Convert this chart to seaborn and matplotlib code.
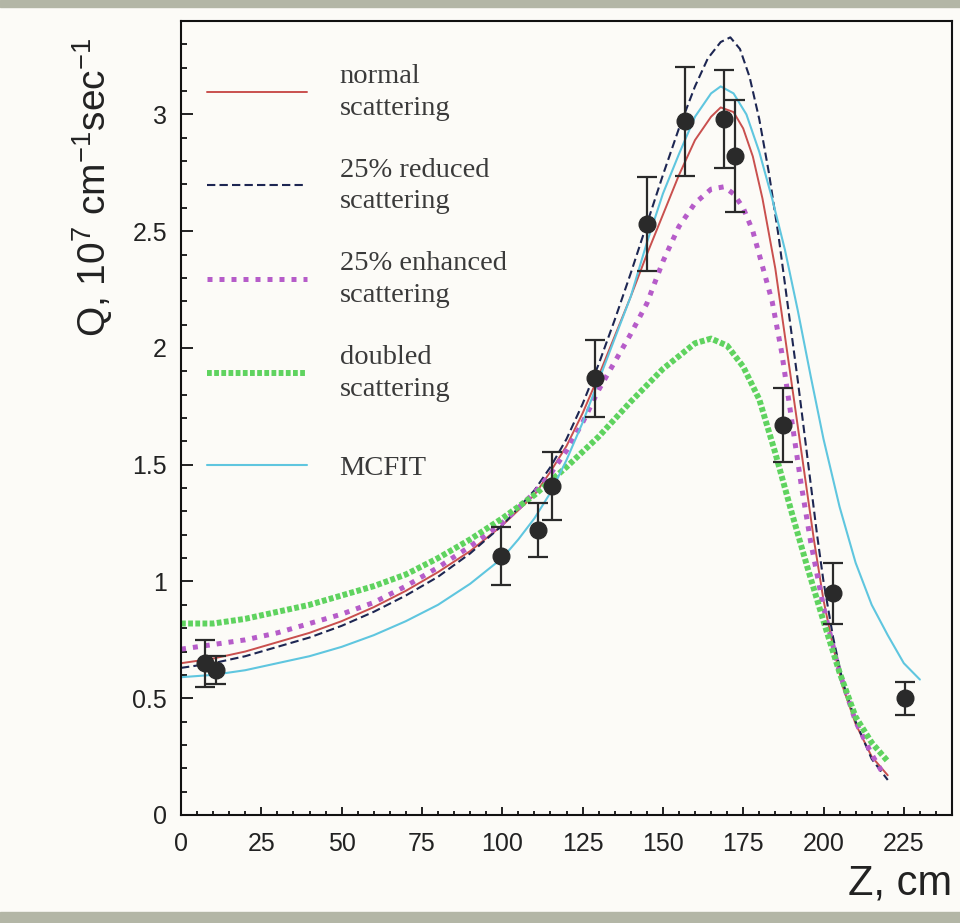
import matplotlib
matplotlib.use("Agg")
import matplotlib.pyplot as plt
from matplotlib.patches import Rectangle
from matplotlib.ticker import MultipleLocator, FuncFormatter
import seaborn as sns

# values (Z in cm, Q in 1e7 cm^-1 sec^-1)
z_normal = [0, 10, 20, 30, 40, 50, 60, 70, 80, 90, 100, 110, 115, 120, 125, 130, 135, 140, 145,
            150, 155, 160, 165, 168, 172, 175, 178, 181, 185, 188, 191, 194, 197, 200, 203, 206,
            210, 215, 220]
q_normal = [0.65, 0.67, 0.70, 0.74, 0.78, 0.83, 0.89, 0.96, 1.04, 1.13, 1.24, 1.37, 1.47, 1.58,
            1.72, 1.88, 2.05, 2.22, 2.40, 2.57, 2.74, 2.89, 2.99, 3.03, 3.01, 2.94, 2.82, 2.64,
            2.34, 2.05, 1.76, 1.47, 1.18, 0.92, 0.72, 0.55, 0.39, 0.25, 0.17]

z_reduced = [0, 10, 20, 30, 40, 50, 60, 70, 80, 90, 100, 110, 115, 120, 125, 130, 135, 140, 145,
             150, 155, 160, 164, 168, 171, 174, 177, 180, 183, 186, 189, 192, 195, 198, 200, 203,
             206, 210, 215, 220]
q_reduced = [0.63, 0.65, 0.68, 0.72, 0.76, 0.81, 0.87, 0.94, 1.02, 1.12, 1.24, 1.39, 1.49, 1.61,
             1.76, 1.93, 2.12, 2.32, 2.53, 2.74, 2.94, 3.12, 3.24, 3.31, 3.33, 3.28, 3.16, 2.98,
             2.75, 2.48, 2.17, 1.86, 1.53, 1.20, 1.00, 0.76, 0.57, 0.40, 0.24, 0.15]

z_enhanced = [0, 10, 20, 30, 40, 50, 60, 70, 80, 90, 100, 110, 115, 120, 125, 130, 135, 140, 145,
              150, 155, 160, 165, 169, 172, 175, 178, 181, 184, 187, 190, 193, 196, 200, 205, 210,
              215, 218]
q_enhanced = [0.71, 0.73, 0.75, 0.78, 0.82, 0.86, 0.91, 0.98, 1.06, 1.15, 1.25, 1.38, 1.46, 1.56,
              1.68, 1.82, 1.94, 2.06, 2.19, 2.37, 2.52, 2.62, 2.68, 2.69, 2.66, 2.60, 2.50, 2.35,
              2.20, 1.98, 1.70, 1.42, 1.17, 0.89, 0.61, 0.40, 0.26, 0.19]

z_doubled = [0, 10, 20, 30, 40, 50, 60, 70, 80, 90, 100, 110, 120, 130, 140, 150, 160, 165, 170,
             175, 180, 185, 190, 195, 200, 205, 210, 215, 220]
q_doubled = [0.82, 0.82, 0.84, 0.87, 0.90, 0.94, 0.98, 1.03, 1.10, 1.18, 1.27, 1.37, 1.49, 1.62,
             1.77, 1.91, 2.02, 2.04, 2.01, 1.92, 1.78, 1.55, 1.30, 1.06, 0.83, 0.61, 0.42, 0.31,
             0.23]

z_mcfit = [0, 10, 20, 30, 40, 50, 60, 70, 80, 90, 100, 105, 110, 115, 120, 125, 130, 135, 140,
           145, 150, 155, 160, 165, 168, 172, 176, 180, 184, 188, 192, 196, 200, 205, 210, 215,
           220, 225, 230]
q_mcfit = [0.59, 0.60, 0.62, 0.65, 0.68, 0.72, 0.77, 0.83, 0.90, 0.99, 1.10, 1.18, 1.27, 1.38,
           1.52, 1.68, 1.86, 2.04, 2.22, 2.45, 2.66, 2.83, 2.99, 3.09, 3.12, 3.09, 3.00, 2.84,
           2.64, 2.42, 2.16, 1.88, 1.61, 1.32, 1.08, 0.90, 0.77, 0.65, 0.58]

# measured points with error bars
z_meas = [7.5, 11, 99.5, 111, 115.5, 129, 145, 157, 169, 172.5, 187.5, 203, 225.5]
q_meas = [0.65, 0.62, 1.11, 1.22, 1.41, 1.87, 2.53, 2.97, 2.98, 2.82, 1.67, 0.95, 0.50]
q_err = [0.10, 0.06, 0.125, 0.115, 0.145, 0.165, 0.20, 0.235, 0.21, 0.24, 0.16, 0.13, 0.07]

labels = ["normal\nscattering", "25% reduced\nscattering", "25% enhanced\nscattering",
          "doubled\nscattering", "MCFIT"]

# styling
sns.set_style("ticks")
plt.rcParams["font.family"] = ["Liberation Sans", "DejaVu Sans"]
plt.rcParams["xtick.direction"] = "in"
plt.rcParams["ytick.direction"] = "in"

BG = "#fcfbf7"
fig = plt.figure(figsize=(9.6, 9.23), dpi=100, facecolor=BG)
ax = fig.add_axes([181 / 960, 1 - 815 / 923, 771 / 960, 794 / 923])
ax.set_facecolor(BG)

# scan borders
fig.patches.append(Rectangle((0, 1 - 7 / 923), 1, 7 / 923, transform=fig.transFigure,
                             color="#b3b6a6", zorder=0))
fig.patches.append(Rectangle((0, 0), 1, 11 / 923, transform=fig.transFigure,
                             color="#b3b6a6", zorder=0))

styles = [
    dict(color="#c9504e", lw=1.4, ls="-"),
    dict(color="#1d2652", lw=1.5, ls=(0, (4, 2))),
    dict(color="#b65cc9", lw=3.6, ls=(0, (1, 1.4))),
    dict(color="#5fd35f", lw=4.3, ls=(0, (0.8, 0.4))),
    dict(color="#5fc6df", lw=1.5, ls="-"),
]
curves = [(z_normal, q_normal), (z_reduced, q_reduced), (z_enhanced, q_enhanced),
          (z_doubled, q_doubled), (z_mcfit, q_mcfit)]

handles = []
for (zz, qq), st, lab in zip(curves, styles, labels):
    sns.lineplot(x=zz, y=qq, ax=ax, estimator=None, errorbar=None, label=lab,
                 color=st["color"], linewidth=st["lw"], linestyle=st["ls"])
    handles.append(ax.get_lines()[-1])
ax.get_legend().remove()

ax.errorbar(z_meas, q_meas, yerr=q_err, fmt="o", color="#2a2a2a", ms=12, capsize=7,
            elinewidth=1.6, capthick=1.6, zorder=5)

ax.set_xlim(0, 240)
ax.set_ylim(0, 3.4)
ax.xaxis.set_major_locator(MultipleLocator(25))
ax.xaxis.set_minor_locator(MultipleLocator(5))
ax.yaxis.set_major_locator(MultipleLocator(0.5))
ax.yaxis.set_minor_locator(MultipleLocator(0.1))
ax.yaxis.set_major_formatter(FuncFormatter(lambda v, _: f"{v:g}"))
ax.tick_params(axis="both", which="both", width=1.4, labelsize=18, colors="#222222")
ax.tick_params(axis="y", which="major", length=8.5, pad=10)
ax.tick_params(axis="y", which="minor", length=4.5)
ax.tick_params(axis="x", which="major", length=5.5, pad=12)
ax.tick_params(axis="x", which="minor", length=3)
for s in ax.spines.values():
    s.set_linewidth(1.5)
    s.set_color("#111111")

ax.set_xlabel("Z, cm", fontsize=30, loc="right", labelpad=6, color="#222222")
ax.set_ylabel(r"Q, 10$^\mathregular{7}$ cm$^\mathregular{-1}$sec$^\mathregular{-1}$",
              fontsize=28, loc="top", color="#222222",
              family=["Liberation Sans Narrow", "Liberation Sans"])
ax.yaxis.set_label_coords(-0.085, 0.979)

leg_font = {"family": "Liberation Serif", "size": 20.5}
leg1 = ax.legend(handles[:4], labels[:4], loc="upper left", bbox_to_anchor=(0.034, 0.946),
                 frameon=False, prop=leg_font, handlelength=3.5, handletextpad=1.15,
                 labelspacing=1.3, borderpad=0, borderaxespad=0, labelcolor="#3a3a3a")
for t in leg1.get_texts():
    t.set_linespacing(1.35)
ax.add_artist(leg1)
ax.legend(handles[4:], labels[4:], loc="center left", bbox_to_anchor=(0.034, 0.437),
          frameon=False, prop=leg_font, handlelength=3.5, handletextpad=1.15,
          borderpad=0, borderaxespad=0, labelcolor="#3a3a3a")

fig.savefig("out.png", dpi=100, facecolor=BG)
